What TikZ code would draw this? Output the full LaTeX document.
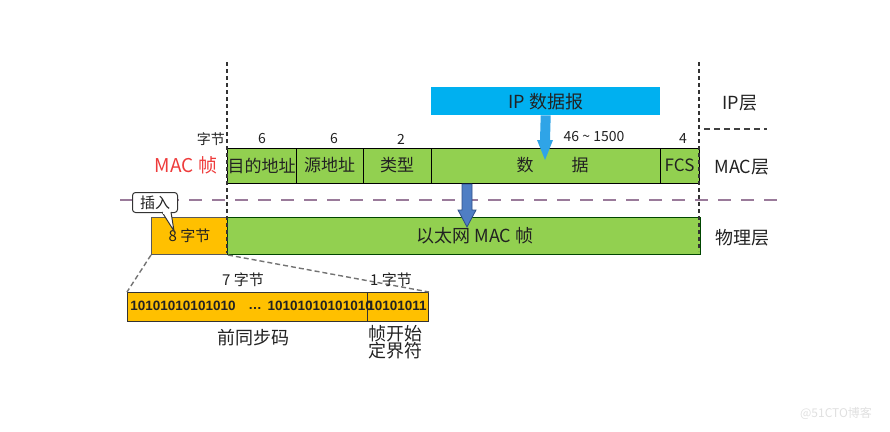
\documentclass[tikz,border=0pt]{standalone}
\usepackage{fontspec}
\setmainfont{Noto Sans CJK SC}
\newfontfamily\bitfont{Liberation Sans}
\usetikzlibrary{calc}
\definecolor{macgreen}{HTML}{92D050}
\definecolor{orangey}{HTML}{FFC000}
\definecolor{ipblue}{HTML}{00B0F0}
\definecolor{arrblue}{HTML}{2FA4E7}
\definecolor{darkarr}{HTML}{4F7EC4}
\definecolor{darkarrline}{HTML}{2F4F88}
\definecolor{layerdash}{HTML}{9A7A9A}
\definecolor{txt}{HTML}{222222}
\definecolor{macred}{HTML}{EE3B3B}
\tikzset{
  big/.style={font=\fontsize{18}{21}\selectfont},
  boxt/.style={font=\fontsize{17}{20}\selectfont},
  mid/.style={font=\fontsize{15}{18}\selectfont},
  num/.style={font=\fontsize{14}{16}\selectfont},
  bitst/.style={font=\bitfont\bfseries\fontsize{13.5}{15}\selectfont},
  fbox/.style={draw=black, line width=1pt, fill=macgreen, inner sep=0pt, outer sep=0pt,
     minimum height=35pt, anchor=north west, text=txt, boxt},
  lbl/.style={inner sep=0pt, text=txt},
  vdash/.style={draw=black!80, line width=1.2pt, dash pattern=on 4pt off 3pt},
  ldash/.style={draw=layerdash, line width=2pt, dash pattern=on 13pt off 10pt},
  gdash/.style={draw=black!55, line width=1.4pt, dash pattern=on 5pt off 3pt},
}
\begin{document}
\begin{tikzpicture}[x=1pt,y=-1pt]
\useasboundingbox (0,0) rectangle (890,431);
% MAC frame row
\node[fbox, minimum width=69pt] (dst) at (227,148) {目的地址};
\node[fbox, minimum width=67pt] (src) at (296,148) {源地址};
\node[fbox, minimum width=68pt] (typ) at (363,148) {类型};
\node[fbox, minimum width=229pt] (dat) at (431,148) {\hspace{14pt}数\hspace{38pt}据};
\node[fbox, minimum width=39pt] (fcs) at (660,148) {FCS};
% IP datagram
\node[fill=ipblue, minimum width=229pt, minimum height=28pt, inner sep=0pt, anchor=north west, big, text=txt] (ip) at (431,87) {IP 数据报};
% physical row
\node[draw=black!65, line width=1pt, fill=orangey, minimum width=76pt, minimum height=37pt, inner sep=0pt, anchor=north west, mid, text=txt] (pre) at (151,217) {8 字节};
\node[draw=black!45!green!50!black, line width=1pt, fill=macgreen, minimum width=473pt, minimum height=37pt, inner sep=0pt, anchor=north west, big, text=txt] (eth) at (227,217) {\hspace{22pt}以太网 MAC 帧};
% vertical dashed boundaries
\coordinate (vl0) at (227,62); \coordinate (vl1) at (227,253);
\coordinate (vr0) at (699,62); \coordinate (vr1) at (699,251);
\draw[vdash] (vl0) -- (vl1);
\draw[vdash] (vr0) -- (vr1);
% layer dashed line
\coordinate (h0) at (120,200); \coordinate (h1) at (782,200);
\draw[ldash] (h0) -- (h1);
\coordinate (s0) at (704,129); \coordinate (s1) at (767,129);
\draw[draw=black!75, line width=1.4pt, dash pattern=on 6pt off 4pt] (s0) -- (s1);
% byte counts
\node[lbl, num, anchor=east] (zj) at (225,139) {字节};
\node[lbl, num] (n1) at (262,139) {6};
\node[lbl, num] (n2) at (334,139) {6};
\node[lbl, num] (n3) at (401,139) {2};
\node[lbl, num] (n4) at (594,137) {46 \textasciitilde{} 1500};
\node[lbl, num] (n5) at (683,139) {4};
% layer labels
\node[lbl, big] (lip) at (740,103) {IP层};
\node[lbl, big] (lmac) at (742,167) {MAC层};
\node[lbl, big] (lphy) at (742,238) {物理层};
\node[lbl, text=macred, font=\fontsize{19}{22}\selectfont] (macf) at (186,165) {MAC 帧};
% arrows
\coordinate (b0) at (ip.south);
\coordinate (b1) at (545,160);
\fill[arrblue] ($(b0)+(-5,0)$) -- ($(b1)+(-5,-20)$) -- ($(b1)+(-8,-20)$) -- (b1)
  -- ($(b1)+(8,-20)$) -- ($(b1)+(5,-20)$) -- ($(b0)+(5,0)$) -- cycle;
\coordinate (d0) at (467,184);
\coordinate (d1) at (467,227);
\filldraw[fill=darkarr, draw=darkarrline, line width=0.8pt] ($(d0)+(-5,0)$) -- ($(d1)+(-5,-17)$) -- ($(d1)+(-9,-17)$) -- (d1)
  -- ($(d1)+(9,-17)$) -- ($(d1)+(5,-17)$) -- ($(d0)+(5,0)$) -- cycle;
% insert callout
\node[draw=black!80, line width=1pt, fill=white, rounded corners=3pt, minimum width=45pt, minimum height=20pt, inner sep=0pt, mid, text=txt, anchor=north west] (ins) at (132,192) {插入};
\coordinate (tip) at (174,231);
\filldraw[draw=black!80, fill=white, line width=1pt] ($(ins.south west)+(30,-1)$) -- (tip) -- ($(ins.south west)+(39,-1)$);
\fill[white] ($(ins.south west)+(31,-1.5)$) rectangle ($(ins.south west)+(38,1)$);
% preamble detail
\node[draw=black!80, line width=1pt, fill=orangey, minimum width=240pt, minimum height=29pt, inner sep=0pt, anchor=north west] (pa) at (127,292) {};
\node[draw=black!80, line width=1pt, fill=orangey, minimum width=61pt, minimum height=29pt, inner sep=0pt, anchor=north west] (sfd) at (367,292) {};
\node[lbl, bitst] (bits1) at (183,306) {10101010101010};
\node[lbl, bitst] (dots) at (255,308) {…};
\node[lbl, bitst, anchor=east] (bits2) at (373,306) {10101010101010};
\node[lbl, bitst] (bits3) at (397,306) {10101011};
\draw[gdash] (pre.south west) -- (pa.north west);
\draw[gdash] (pre.south east) -- (sfd.north east);
\node[lbl, mid] (z7) at (243,280) {7 字节};
\node[lbl, mid] (z1) at (391,280) {1 字节};
\node[lbl, big] (qt) at (253,338) {前同步码};
\node[lbl, align=center, font=\fontsize{18}{17}\selectfont] (sf) at (395,342) {帧开始\\定界符};
% watermark
\node[lbl, text=black!12, font=\fontsize{12}{14}\selectfont] (wm) at (836,413) {@51CTO博客};
\end{tikzpicture}
\end{document}
